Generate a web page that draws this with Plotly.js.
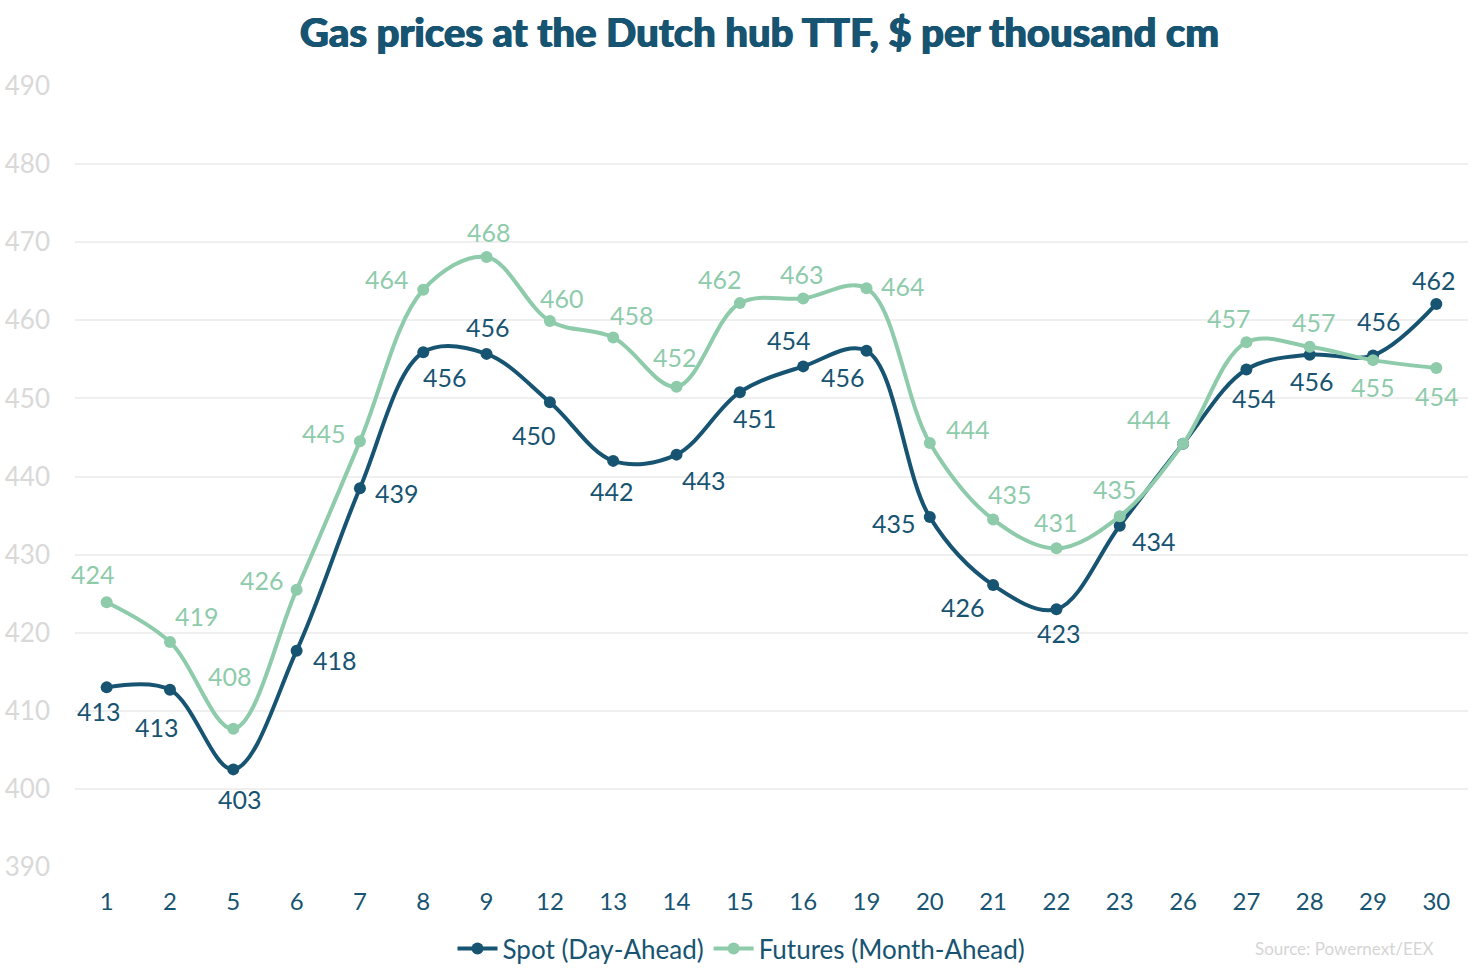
<!DOCTYPE html>
<html>
<head>
<meta charset="utf-8">
<script src="https://cdn.plot.ly/plotly-3.0.1.min.js"></script>
<style>html,body{margin:0;padding:0;background:#fff;}#chart{width:1483px;height:978px;}</style>
</head>
<body>
<div id="chart"></div>
<script>
const days = ["1","2","5","6","7","8","9","12","13","14","15","16","19","20","21","22","23","26","27","28","29","30"];
const spot = [413.0, 412.7, 402.5, 417.7, 438.5, 455.9, 455.7, 449.5, 442.0, 442.8, 450.8, 454.1, 456.1, 434.8, 426.1, 423.0, 433.7, 444.2, 453.7, 455.6, 455.5, 462.1];
const futures = [423.9, 418.8, 407.7, 425.5, 444.5, 463.9, 468.1, 459.9, 457.8, 451.5, 462.2, 462.8, 464.1, 444.3, 434.5, 430.8, 434.9, 444.2, 457.2, 456.6, 454.9, 453.9];
const spotShown = [true,true,true,true,true,true,true,true,true,true,true,true,true,true,true,true,true,false,true,true,true,true];

// label offsets in pixels (dx right, dy down)
const spotDx = [-8,-13,7,38,37,22,1,-16,-1,27,15,-14,-23,-36,-30,3,34,0,8,2,6,-2];
const spotDy = [24,37,30,9,5,25,-27,33,30,25,26,-26,26,6,22,24,15,0,28,26,-34,-24];
const futDx = [-14,27,-3,-35,-36,-36,2,12,19,-2,-20,-1,37,38,17,0,-5,-34,-17,4,0,1];
const futDy = [-28,-26,-53,-10,-8,-11,-25,-23,-22,-30,-24,-24,-2,-14,-25,-26,-27,-25,-24,-25,27,28];

const dark = "#175472";
const light = "#8ecbab";
const FONT = "Lato, 'Open Sans', sans-serif";

const traces = [
  {
    x: days, y: spot, name: "Spot (Day-Ahead)", type: "scatter", mode: "lines+markers",
    line: {color: dark, width: 4, shape: "spline", smoothing: 1},
    marker: {color: dark, size: 12},
    hoverinfo: "skip", cliponaxis: false
  },
  {
    x: days, y: futures, name: "Futures (Month-Ahead)", type: "scatter", mode: "lines+markers",
    line: {color: light, width: 4, shape: "spline", smoothing: 1},
    marker: {color: light, size: 12},
    hoverinfo: "skip", cliponaxis: false
  }
];

const annotations = [];
days.forEach((d, i) => {
  if (spotShown[i]) annotations.push({x: i, y: spot[i], xref: "x", yref: "y", text: String(Math.round(spot[i])), showarrow: false, xanchor: "center", yanchor: "middle", xshift: spotDx[i], yshift: -spotDy[i], font: {family: FONT, size: 25, color: dark}});
  annotations.push({x: i, y: futures[i], xref: "x", yref: "y", text: String(Math.round(futures[i])), showarrow: false, xanchor: "center", yanchor: "middle", xshift: futDx[i], yshift: -futDy[i], font: {family: FONT, size: 25, color: light}});
});
annotations.push({text: "Source: Powernext/EEX", xref: "paper", yref: "paper", x: 0.977, xanchor: "right", y: -0.104, yanchor: "middle", showarrow: false, font: {family: FONT, size: 17, color: "#d5d5d5"}});

const layout = {
  width: 1483, height: 978,
  paper_bgcolor: "#fff", plot_bgcolor: "#fff",
  margin: {l: 75, r: 15, t: 86, b: 111},
  font: {family: FONT, color: dark},
  title: {text: "Gas prices at the Dutch hub TTF, $ per thousand cm", x: 0.512, xanchor: "center", y: 0.966, yanchor: "middle", font: {family: FONT, size: 40, weight: 900, color: dark, shadow: "0.8px 0px 0px #175472, -0.4px 0px 0px #175472"}},
  xaxis: {type: "category", range: [-0.5, 21.5], showgrid: false, zeroline: false, showline: false, ticks: "", tickfont: {family: FONT, size: 24, color: dark}, ticklabelstandoff: 18},
  yaxis: {range: [390, 490], dtick: 10, tick0: 390, showgrid: true, gridcolor: "#efefef", gridwidth: 2, zeroline: false, showline: false, ticks: "", tickfont: {family: FONT, size: 26, color: "#d9d9d9"}, ticklabelstandoff: 24},
  showlegend: true,
  legend: {orientation: "h", xref: "container", x: 0.5, xanchor: "center", yref: "container", y: 0.03, yanchor: "middle", font: {family: FONT, size: 26, color: dark}, itemwidth: 40, tracegroupgap: 0},
  annotations: annotations
};

Plotly.newPlot("chart", traces, layout, {displayModeBar: false, staticPlot: true});
</script>
</body>
</html>
